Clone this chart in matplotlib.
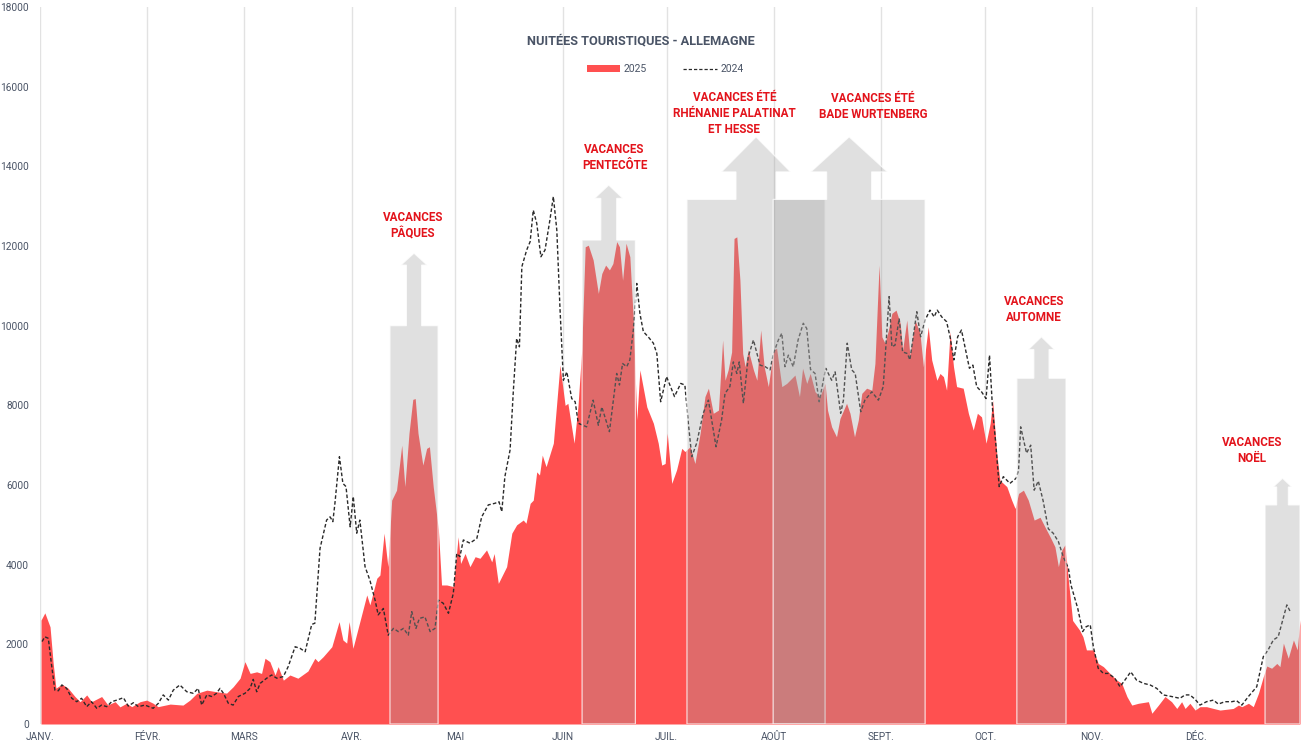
import matplotlib
matplotlib.use('Agg')
import matplotlib.pyplot as plt
from matplotlib.patches import Polygon, Patch
from matplotlib.lines import Line2D

plt.rcParams['font.family'] = ['Roboto', 'DejaVu Sans']

###### donnees (jour de l'annee, nuitees)
jours_2025 = [0.3, 1.4, 2.9, 3.8, 4.6, 6.3, 8.1, 10.1, 11.6, 13.5,
              14.9, 17.8, 19.6, 21.7, 23.1, 25.0, 26.5, 28.9, 30.8, 32.6,
              34.1, 37.6, 41.3, 43.3, 45.3, 48.2, 51.0, 53.9, 55.8, 57.8,
              59.2, 60.7, 62.6, 64.0, 65.0, 66.4, 67.9, 68.8, 70.3, 72.2,
              74.5, 77.4, 79.4, 80.3, 81.8, 84.3, 86.4, 87.5, 88.6, 89.3,
              90.4, 94.4, 95.3, 97.3, 98.2, 99.4, 100.5, 101.6, 103.0, 104.5,
              105.4, 106.6, 107.7, 108.4, 109.2, 110.6, 111.7, 112.5, 113.6, 115.1,
              116.0, 117.5, 119.4, 120.8, 121.5, 122.8, 124.2, 125.7, 127.1, 129.0,
              130.5, 131.2, 132.4, 134.8, 136.3, 137.7, 139.6, 140.4, 141.6, 142.5,
              143.5, 144.3, 145.1, 146.2, 148.3, 150.2, 151.7, 152.5, 154.3, 155.4,
              156.5, 157.5, 158.4, 159.8, 161.3, 162.3, 163.4, 164.5, 165.5, 166.6,
              167.4, 168.3, 169.3, 170.4, 171.4, 172.4, 173.3, 175.3, 177.2, 178.6,
              179.6, 180.6, 181.2, 182.5, 183.9, 185.4, 186.3, 187.8, 189.2, 190.7,
              192.1, 193.1, 194.5, 196.0, 197.2, 197.9, 198.8, 199.8, 200.5, 201.3,
              202.2, 203.0, 203.7, 204.6, 206.1, 207.1, 208.2, 209.2, 210.4, 211.9,
              212.8, 214.3, 215.7, 218.1, 219.4, 220.3, 221.5, 222.5, 223.9, 225.3,
              226.8, 227.5, 228.7, 230.1, 231.1, 233.0, 234.0, 235.3, 236.4, 237.4,
              238.8, 240.3, 241.2, 242.4, 243.2, 244.1, 245.1, 246.1, 247.3, 248.5,
              249.2, 250.4, 251.3, 252.8, 254.2, 255.2, 256.6, 257.6, 259.1, 260.0,
              261.0, 261.9, 262.9, 263.9, 264.8, 266.7, 268.2, 269.6, 270.8, 272.0,
              273.3, 274.5, 275.2, 276.4, 277.3, 279.3, 280.7, 281.7, 282.7, 284.1,
              285.5, 287.2, 288.9, 290.3, 291.8, 293.2, 294.2, 295.2, 296.1, 297.1,
              298.3, 300.3, 301.3, 302.3, 304.3, 305.7, 307.2, 309.1, 311.1, 312.5,
              314.0, 315.4, 317.3, 320.2, 321.2, 323.1, 325.0, 326.9, 328.4, 329.8,
              330.8, 332.2, 333.7, 335.1, 337.0, 339.0, 340.9, 342.8, 344.7, 346.2,
              347.2, 349.1, 350.5, 352.0, 353.4, 354.4, 355.8, 357.3, 358.2, 359.2,
              360.6, 362.1, 363.2, 364.0]
nuitees_2025 = [2610, 2790, 2440, 1530, 900, 1000, 900, 690, 560, 730,
                560, 690, 480, 560, 430, 520, 435, 560, 600, 525,
                435, 500, 475, 600, 770, 850, 810, 775, 935, 1150,
                1565, 1270, 1310, 1270, 1650, 1565, 1230, 1440, 1100, 1230,
                1150, 1330, 1650, 1565, 1690, 1940, 2570, 2110, 2030, 2570,
                1900, 3240, 2990, 3660, 3740, 4790, 3950, 5620, 5870, 7000,
                5960, 7300, 8150, 8170, 7300, 6500, 6920, 6960, 5960, 4870,
                3490, 3490, 3450, 4700, 4030, 4280, 3950, 4200, 4160, 4370,
                4070, 4280, 3530, 3950, 4790, 5000, 5120, 5040, 5540, 5620,
                6330, 6250, 6750, 6460, 7050, 9010, 8000, 8050, 7050, 7960,
                9390, 11980, 12020, 11650, 10810, 11310, 11520, 11400, 11560, 12110,
                11980, 11140, 12070, 11730, 10140, 7630, 8890, 7960, 7550, 7050,
                6500, 6540, 7300, 6040, 6380, 6920, 6840, 6960, 6540, 7300,
                8220, 8430, 7800, 7880, 9640, 8630, 8890, 9340, 12190, 12230,
                11140, 9300, 8970, 9390, 8890, 8630, 9890, 8970, 8470, 9390,
                9430, 8470, 8550, 8760, 8220, 8930, 8550, 8800, 8340, 8220,
                8550, 7880, 7460, 7210, 7670, 8050, 7800, 7210, 7630, 8300,
                8430, 8380, 9050, 11520, 9720, 9560, 9890, 10310, 10390, 10060,
                9390, 10140, 9260, 10140, 9810, 8970, 9970, 9140, 8630, 8800,
                8720, 8380, 9850, 8970, 8470, 8430, 7800, 7380, 7800, 7710,
                7050, 7550, 8130, 6790, 6120, 5960, 5620, 5410, 5790, 5870,
                5620, 5120, 5190, 4950, 4700, 4450, 3950, 4370, 4500, 3600,
                2600, 2360, 2190, 1860, 1860, 1520, 1440, 1270, 1100, 1020,
                690, 475, 520, 560, 270, 475, 690, 560, 390, 560,
                390, 520, 350, 435, 435, 390, 350, 370, 390, 475,
                435, 520, 435, 770, 1190, 1455, 1400, 1520, 1440, 2030,
                1650, 2110, 1860, 2610]

jours_2024 = [0.6, 1.4, 2.4, 3.4, 4.3, 5.3, 6.3, 7.7, 9.2, 10.6,
              12.0, 13.5, 14.9, 16.4, 17.8, 19.3, 20.7, 22.2, 24.1, 25.5,
              27.0, 28.4, 30.3, 32.7, 34.2, 35.6, 37.1, 38.5, 40.4, 42.4,
              44.3, 45.7, 46.7, 48.2, 49.6, 51.0, 52.0, 53.0, 54.4, 55.8,
              57.3, 59.2, 60.7, 61.6, 62.6, 63.6, 65.5, 66.9, 68.4, 70.3,
              71.7, 73.7, 75.1, 76.6, 78.5, 79.4, 80.9, 82.8, 83.8, 84.6,
              85.2, 86.5, 87.5, 88.4, 89.6, 90.5, 91.5, 92.4, 93.9, 95.3,
              96.8, 97.7, 99.2, 100.6, 102.1, 103.5, 105.0, 106.4, 107.4, 108.6,
              109.6, 111.2, 112.7, 114.1, 115.1, 116.5, 118.0, 119.4, 120.4, 121.3,
              122.3, 124.2, 126.2, 127.6, 129.5, 131.4, 132.6, 133.4, 134.3, 135.8,
              136.7, 137.7, 138.5, 139.2, 140.6, 141.6, 142.5, 143.5, 144.7, 145.9,
              147.3, 148.3, 149.3, 150.2, 151.2, 152.2, 153.6, 154.6, 155.5, 157.9,
              159.8, 161.3, 162.3, 164.5, 166.6, 167.4, 168.3, 169.5, 170.4, 171.4,
              172.4, 173.3, 174.3, 175.7, 177.2, 178.2, 179.3, 181.0, 183.3, 185.1,
              186.3, 187.3, 188.3, 189.7, 191.6, 193.1, 195.3, 196.9, 197.9, 199.3,
              200.3, 201.3, 202.0, 203.2, 204.6, 206.1, 208.0, 209.5, 210.9, 211.9,
              213.3, 214.3, 215.2, 216.2, 217.6, 219.0, 220.5, 221.5, 222.6, 223.9,
              225.1, 227.0, 228.7, 229.7, 231.3, 232.1, 233.2, 234.5, 235.5, 237.1,
              238.3, 240.3, 242.2, 243.6, 245.3, 246.1, 247.0, 248.2, 249.2, 250.6,
              251.3, 253.3, 254.4, 255.7, 257.1, 258.3, 259.2, 260.5, 261.9, 262.9,
              264.0, 265.1, 266.2, 267.2, 268.5, 269.5, 270.6, 272.0, 273.3, 274.3,
              275.2, 276.1, 277.1, 278.3, 280.2, 282.0, 282.7, 283.3, 285.0, 286.2,
              287.2, 288.4, 289.8, 291.3, 292.7, 294.2, 295.6, 297.1, 297.8, 299.8,
              301.2, 302.2, 303.4, 304.3, 305.7, 307.2, 308.6, 310.5, 312.0, 313.4,
              315.1, 316.8, 318.8, 320.7, 322.6, 324.5, 326.9, 329.3, 330.8, 332.2,
              333.7, 335.1, 337.0, 339.0, 340.4, 342.3, 344.3, 345.7, 347.2, 349.1,
              351.5, 353.4, 354.8, 356.3, 357.7, 359.0, 360.2, 361.2]
nuitees_2024 = [2070, 2190, 2150, 1440, 850, 835, 980, 895, 645, 560,
                645, 435, 560, 395, 475, 435, 560, 600, 660, 450,
                535, 435, 475, 395, 520, 730, 600, 850, 980, 810,
                770, 895, 475, 730, 690, 770, 895, 770, 520, 475,
                690, 770, 895, 1120, 810, 1020, 1150, 1230, 1150, 1190,
                1440, 1940, 1900, 1815, 2500, 2530, 4410, 5120, 5200, 5080,
                5540, 6710, 6040, 5960, 4950, 5710, 4790, 5120, 3950, 3610,
                3110, 2740, 2900, 2230, 2400, 2320, 2400, 2230, 2820, 2400,
                2650, 2690, 2320, 2400, 3110, 3030, 2780, 3280, 4280, 4200,
                4620, 4540, 4660, 5200, 5500, 5540, 5580, 5330, 6210, 6880,
                8300, 9680, 9470, 11480, 11900, 12110, 12900, 12570, 11730, 11900,
                12650, 13240, 12400, 10470, 8630, 8840, 8170, 8090, 7550, 7460,
                8130, 7500, 7960, 7340, 8800, 8510, 9050, 8970, 9140, 9890,
                11060, 10310, 9850, 9720, 9560, 9300, 8090, 8720, 8220, 8550,
                8510, 7550, 6710, 7050, 7800, 8130, 6960, 7630, 8300, 8470,
                9090, 8800, 9090, 8050, 9220, 9640, 9010, 8970, 8890, 9300,
                9640, 9810, 8970, 9260, 8970, 9640, 10060, 9930, 8900, 8800,
                8090, 8930, 8630, 8840, 7800, 8130, 9560, 8890, 8800, 7840,
                8130, 8340, 8130, 8470, 10730, 9470, 9510, 10180, 9340, 9300,
                9140, 10350, 9720, 10140, 10390, 10220, 10390, 10220, 10100, 9720,
                9140, 9720, 9890, 9470, 8930, 9010, 8470, 8340, 8170, 9260,
                7880, 7050, 5960, 6210, 6040, 6170, 6380, 7460, 6800, 7000,
                5870, 6100, 5600, 4900, 4790, 4580, 4200, 3910, 3500, 2900,
                2320, 2440, 2490, 1940, 1400, 1270, 1270, 1150, 935, 1100,
                1310, 1100, 1020, 980, 895, 730, 690, 645, 730, 730,
                620, 475, 560, 600, 500, 560, 560, 585, 475, 690,
                935, 1690, 1860, 2110, 2190, 2610, 2990, 2820]

mois = ['JANV.', 'FÉVR.', 'MARS', 'AVR.', 'MAI', 'JUIN',
        'JUIL.', 'AOÛT', 'SEPT.', 'OCT.', 'NOV.', 'DÉC.']
debut_mois = [0, 31, 59, 90, 120, 151, 181, 212, 243, 273, 304, 334]

# periodes de vacances (debut, fin en jour de l'annee) et hauteur du bloc
vacances = ['VACANCES\nPÂQUES', 'VACANCES\nPENTECÔTE',
            'VACANCES ÉTÉ\nRHÉNANIE PALATINAT\nET HESSE',
            'VACANCES ÉTÉ\nBADE WURTENBERG', 'VACANCES\nAUTOMNE', 'VACANCES\nNOËL']
vac_debut = [101.1, 156.6, 186.9, 211.8, 282.2, 353.9]
vac_fin = [115.0, 172.0, 226.8, 255.7, 296.4, 364.0]
vac_haut = [10000, 12150, 13170, 13170, 8680, 5500]

# geometrie des fleches : demi-largeur tige, demi-largeur tete, long. tige, long. tete
fleches = [(2.2, 3.8, 1520, 300), (2.3, 4.1, 1045, 335), (5.8, 10.0, 690, 880),
           (6.5, 11.1, 690, 880), (2.2, 3.8, 720, 320), (1.7, 2.7, 450, 220)]
# position des etiquettes (jour, valeur)
etiq_x = [107.7, 166.0, 200.6, 240.6, 287.2, 350.1]
etiq_y = [12510, 14210, 15320, 15510, 10400, 6865]

ROUGE = '#ff5050'
ROUGE_TXT = '#e3131b'
ARDOISE = '#4a5466'

fig = plt.figure(figsize=(13.06, 7.44), dpi=100)
ax = fig.add_axes([40 / 1306, 20 / 744, 1260 / 1306, 717 / 744])

for d in debut_mois:
    ax.axvline(d, color='#e2e2e2', lw=1, zorder=0)

ax.fill_between(jours_2025, nuitees_2025, 0, color=ROUGE, lw=0, zorder=1)
ax.plot(jours_2024, nuitees_2024, color='#2a2a2a', lw=1.0,
        ls=(0, (2.6, 1.6)), zorder=1.5)

for i in range(len(vacances)):
    x0, x1, h = vac_debut[i], vac_fin[i], vac_haut[i]
    sh, hh, ls_, lh = fleches[i]
    c = (x0 + x1) / 2
    pts = [(x0, 0), (x1, 0), (x1, h), (c + sh, h), (c + sh, h + ls_),
           (c + hh, h + ls_), (c, h + ls_ + lh), (c - hh, h + ls_),
           (c - sh, h + ls_), (c - sh, h), (x0, h)]
    ax.add_patch(Polygon(pts, closed=True, facecolor=(0.63, 0.63, 0.63, 0.33),
                         edgecolor=(1, 1, 1, 0.75), lw=0.9, zorder=2))
    ax.text(etiq_x[i], etiq_y[i], vacances[i], color=ROUGE_TXT, fontsize=8.4,
            fontweight='bold', ha='center', va='center', linespacing=1.3, zorder=4)

ax.set_xlim(0, 364)
ax.set_ylim(0, 18000)
ax.set_yticks(range(0, 18001, 2000))
ax.set_xticks(debut_mois)
ax.set_xticklabels(mois)
ax.tick_params(length=0, labelsize=7.3, labelcolor=ARDOISE)
ax.tick_params(axis='y', pad=8)
ax.tick_params(axis='x', pad=6)
for s in ax.spines.values():
    s.set_visible(False)

fig.text(641 / 1306, 1 - 41 / 744, 'NUITÉES TOURISTIQUES - ALLEMAGNE',
         ha='center', va='center', fontsize=9.2, fontweight='bold', color=ARDOISE)

poignees = [Patch(facecolor=ROUGE, edgecolor='none'),
            Line2D([], [], color='#2a2a2a', lw=0.9, ls=(0, (2.6, 1.6)))]
fig.legend(poignees, ['2025', '2024'], loc='center', ncol=2,
           bbox_to_anchor=(665 / 1306, 1 - 69 / 744), frameon=False,
           fontsize=7.5, labelcolor=ARDOISE, handlelength=3.2, handleheight=0.6,
           handletextpad=0.35, columnspacing=3.5)

plt.savefig('out.png', dpi=100)
